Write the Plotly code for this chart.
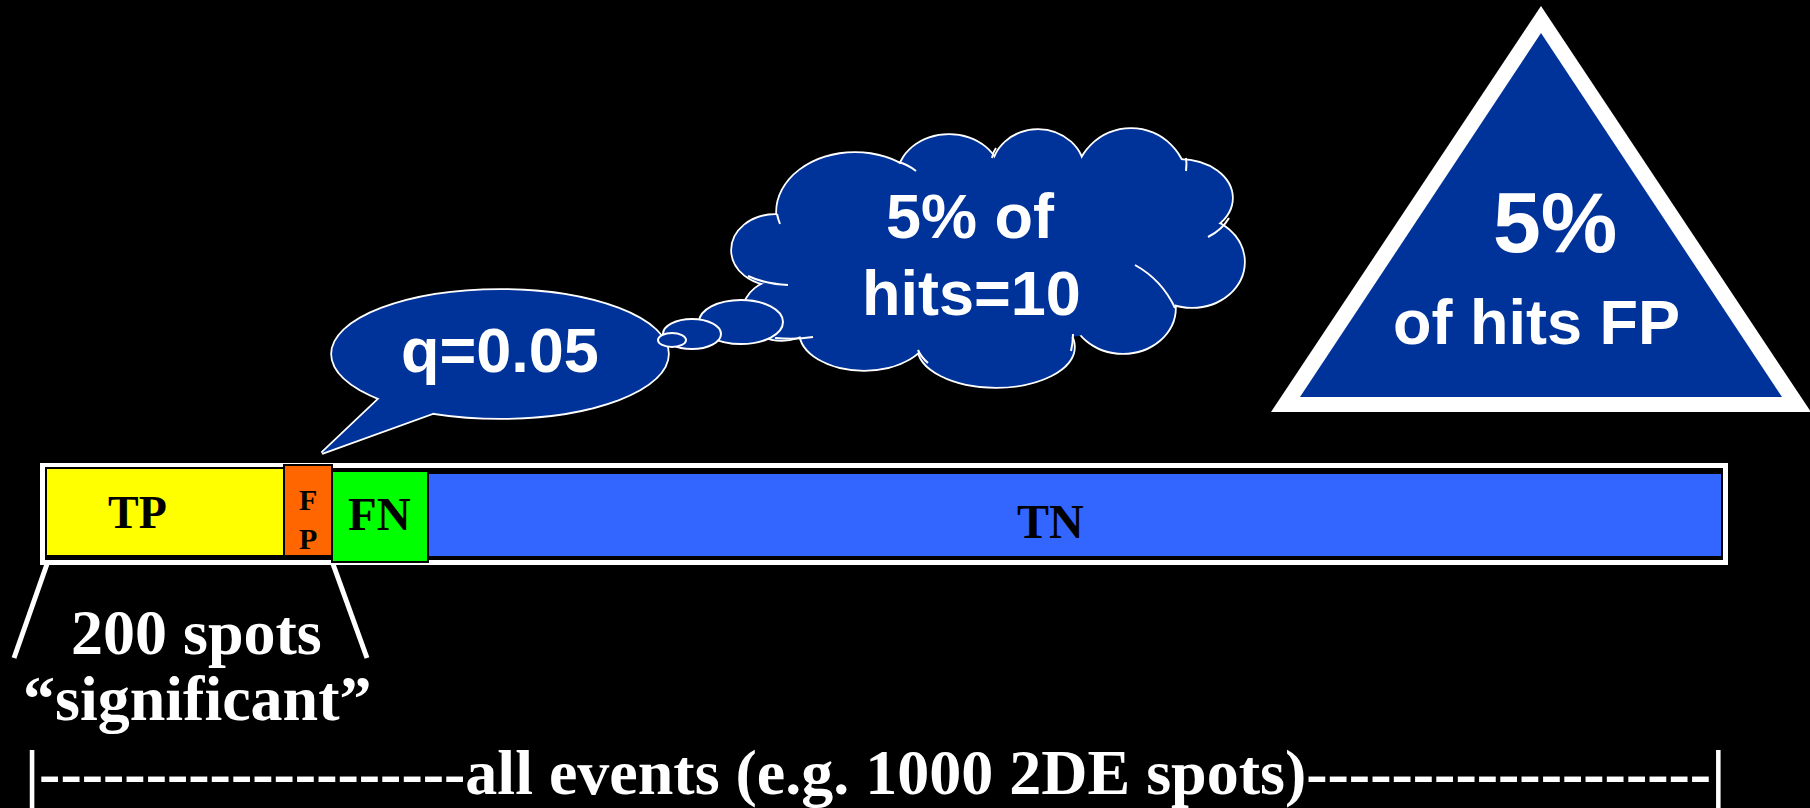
import plotly.graph_objects as go

# ---------------- data ----------------
segments = ["TP", "FP", "FN", "TN"]
segment_lengths = [238, 48, 96, 1294]          # drawn length of each stacked segment
bar_labels = ["TP", "F<br>P", "FN", "TN"]

bubble_q_text = "q=0.05"
cloud_lines = ["5% of", "hits=10"]
triangle_lines = ["5%", "of hits FP"]
caption_lines = ["200 spots", "\u201csignificant\u201d"]
n_dash_left, n_dash_right = 20, 19
bottom_core = "all events (e.g. 1000 2DE spots)"

# ---------------- styling / geometry (layout) ----------------
W, H = 1810, 808
seg_colors = ["#FFFF00", "#FF6600", "#00FF00", "#3366FF"]
seg_start = 46
seg_y = [(468, 556), (465, 556), (471, 562), (473, 557)]   # top, bottom
seg_label_pos = [(137, 512), (308, 519), (379, 514), (1050, 521)]
seg_label_size = [46, 30, 47, 48]
DARK = "#003399"
SERIF = "Liberation Serif, Times New Roman, serif"
SANS = "Liberation Sans, Arial, sans-serif"

fig = go.Figure()

base = seg_start
for name, length, col, (yt, yb) in zip(segments, segment_lengths, seg_colors, seg_y):
    fig.add_trace(go.Bar(
        orientation="h", name=name,
        x=[length], base=[base], y=[(yt + yb) / 2], width=[yb - yt],
        marker=dict(color=col, line=dict(color="#000000", width=2)),
        hoverinfo="skip", showlegend=False,
    ))
    base += length

shapes = []
# white frame around the bar
shapes.append(dict(type="rect", xref="x", yref="y", x0=42.5, x1=1725.5, y0=465.5, y1=562.5,
                   line=dict(color="white", width=5), fillcolor="black", layer="below"))
# bracket lines under the significant part
shapes.append(dict(type="line", xref="x", yref="y", x0=47, y0=564, x1=14, y1=658,
                   line=dict(color="white", width=5)))
shapes.append(dict(type="line", xref="x", yref="y", x0=333, y0=564, x1=367, y1=658,
                   line=dict(color="white", width=5)))

def ell(cx, cy, rx, ry, fill, lw, lc="white"):
    return dict(type="circle", xref="x", yref="y", x0=cx - rx, x1=cx + rx, y0=cy - ry, y1=cy + ry,
                fillcolor=fill, line=dict(color=lc, width=lw), layer="above")

def path(d, fill, lw, lc="white"):
    return dict(type="path", xref="x", yref="y", path=d, fillcolor=fill,
                line=dict(color=lc, width=lw), layer="above")

# speech bubble q=0.05
tail = "M 380,398 L 322,453 L 433,413 L 420,380 L 390,380 Z"
shapes.append(ell(500, 354, 168, 64, DARK, 3.5))
shapes.append(path(tail, DARK, 3.5))
shapes.append(ell(500, 354, 168, 64, DARK, 0, DARK))
shapes.append(path(tail, DARK, 0, DARK))

# cloud
bumps = [(775, 250, 43, 35), (855, 212, 78, 59), (949, 177, 51, 42), (1038, 172, 46, 42),
         (1131, 185, 56, 56), (1180, 198, 52, 38), (1192, 262, 52, 45), (1123, 308, 52, 45),
         (996, 347, 78, 40), (864, 332, 64, 38), (782, 310, 38, 30)]
for b in bumps:
    shapes.append(ell(*b, DARK, 3.5))
for b in bumps:
    shapes.append(ell(*b, DARK, 0, DARK))
shapes.append(ell(985, 258, 200, 88, DARK, 0, DARK))
creases = ["M 898,162 Q 907,164 916,171", "M 996,148 Q 993,152 992,158",
           "M 1186,158 Q 1187,164 1186,171", "M 1229,218 Q 1222,230 1208,237",
           "M 1135,265 Q 1162,280 1175,308", "M 1073,334 Q 1073,343 1071,351",
           "M 918,350 Q 921,357 928,363", "M 775,338 Q 795,340 813,337",
           "M 748,276 Q 765,284 788,285", "M 777,214 Q 778,219 780,224"]
for c in creases:
    shapes.append(dict(type="path", xref="x", yref="y", path=c,
                       line=dict(color="white", width=2), layer="above"))

# thought bubbles
shapes.append(ell(741, 322, 42, 22, DARK, 2))
shapes.append(ell(692, 334, 29, 15, DARK, 2))
shapes.append(ell(672, 340, 14, 7, DARK, 2))

# triangle
shapes.append(path("M 1541,6 L 1271,412 L 1811,412 Z", "white", 0))
shapes.append(path("M 1541,33 L 1300,397 L 1782,397 Z", DARK, 0, DARK))

annotations = []
def txt(x, y, s, size, family, color="white"):
    annotations.append(dict(x=x, y=y, xref="x", yref="y", text="<b>" + s + "</b>",
                            showarrow=False, xanchor="center", yanchor="middle",
                            font=dict(size=size, family=family, color=color)))

for lab, (lx, ly), sz in zip(bar_labels, seg_label_pos, seg_label_size):
    txt(lx, ly, lab, sz, SERIF, "black")

txt(500, 350, bubble_q_text, 63, SANS)
txt(970, 216, cloud_lines[0], 63, SANS)
txt(971, 293, cloud_lines[1], 63, SANS)
txt(1555, 222, triangle_lines[0], 86, SANS)
txt(1536, 322, triangle_lines[1], 63, SANS)
txt(196, 632, caption_lines[0], 64, SERIF)
txt(197, 698, caption_lines[1], 64, SERIF)
txt(875, 772, "|" + "-" * n_dash_left + bottom_core + "-" * n_dash_right + "|", 64, SERIF)

fig.update_layout(
    width=W, height=H, margin=dict(l=0, r=0, t=0, b=0),
    paper_bgcolor="black", plot_bgcolor="black",
    barmode="overlay", showlegend=False,
    xaxis=dict(range=[0, W], visible=False, fixedrange=True),
    yaxis=dict(range=[H, 0], visible=False, fixedrange=True),
    shapes=shapes, annotations=annotations,
)
fig.write_html("out.html", config={"displayModeBar": False})
